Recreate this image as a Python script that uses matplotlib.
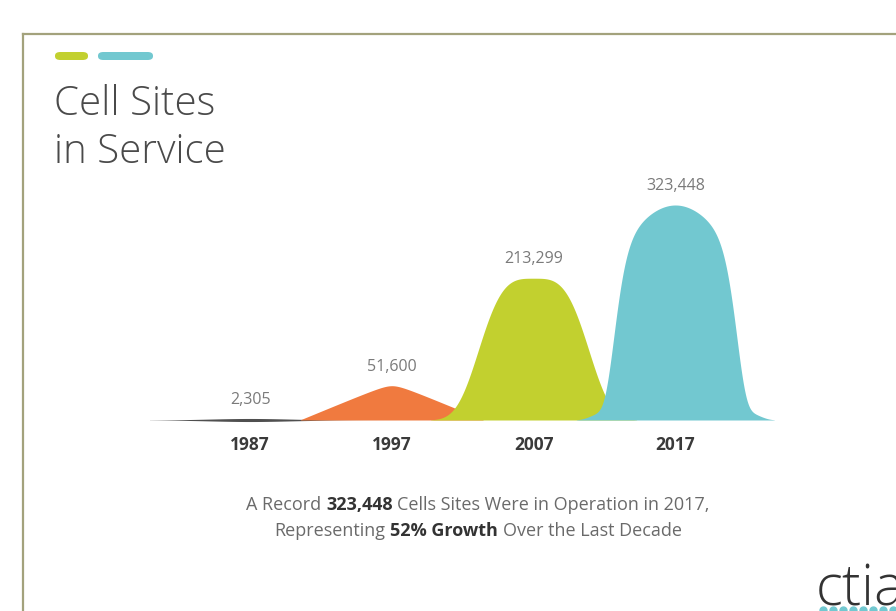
import numpy as np
import matplotlib
matplotlib.use("Agg")
import matplotlib.pyplot as plt
from matplotlib.patches import FancyBboxPatch
from matplotlib.lines import Line2D

# data
years = [1987, 1997, 2007, 2017]
sites = [2305, 51600, 213299, 323448]
labels = ["2,305", "51,600", "213,299", "323,448"]
colors = ["#4f4f4f", "#f07a3f", "#c2d02f", "#72c8d0"]

FONT = "Open Sans"


# shape of each bump, d = distance from the year (in years)
def shape_gray(d):
    return np.exp(-(d / 4.0) ** 2)


def shape_orange(d):
    # tent with a rounded tip
    a, c = 6.53, 0.7
    return np.clip((a - np.sqrt(d ** 2 + c ** 2)) / (a - c), 0, None)


def shape_green(d):
    return np.exp(-(np.abs(d) / 4.3) ** 3.5)


def shape_teal(d):
    # rounded top, steep sides, small flare at the foot
    core = np.exp(-(d / 8.1) ** 2 - (d / 4.5) ** 8)
    foot = np.exp(-(d / 5.9) ** 8)
    return (core + 0.06 * foot) / 1.06


shapes = [shape_gray, shape_orange, shape_green, shape_teal]

fig = plt.figure(figsize=(8.96, 6.11), dpi=100)
fig.patch.set_facecolor("white")
W, H = 896, 611

# frame lines top and left
fig.add_artist(Line2D([23 / W, 1], [1 - 34 / H, 1 - 34 / H], color="#a3a27c", lw=1.6))
fig.add_artist(Line2D([23 / W, 23 / W], [0, 1 - 34 / H], color="#a3a27c", lw=1.6))

# little pills over the title
for x0, x1, c in [(55, 88, "#c2d02f"), (98, 153, "#72c8d0")]:
    fig.add_artist(FancyBboxPatch((x0 / W, 1 - 60 / H), (x1 - x0) / W, 8 / H,
                                  boxstyle="round,pad=0,rounding_size=0.006",
                                  transform=fig.transFigure, fc=c, ec="none"))

fig.text(54 / W, 1 - 115 / H, "Cell Sites", fontsize=29, color="#4a4a4a",
         family=FONT, weight="light", va="baseline")
fig.text(54 / W, 1 - 163 / H, "in Service", fontsize=29, color="#4a4a4a",
         family=FONT, weight="light", va="baseline")

# chart area
ax = fig.add_axes([150 / W, (H - 430) / H, 650 / W, 260 / H])
ax.set_xlim(1979.94, 2025.8)
ax.set_ylim(-15044, 376100)
for s in ax.spines.values():
    s.set_visible(False)
ax.set_yticks([])

x = np.linspace(1979, 2027, 4000)
for i, (yr, v, c, f) in enumerate(zip(years, sites, colors, shapes)):
    y = v * f(x - yr)
    if i > 0:
        y[y < 400] = 0
    if i == 0:
        ax.fill_between(x, -y, y, color=c, lw=0, zorder=i + 1)
    else:
        ax.fill_between(x, 0, y, color=c, lw=0, zorder=i + 1)
    ax.annotate(labels[i], (yr, v), xytext=(0, 13.5), textcoords="offset points",
                ha="center", va="center", fontsize=11.5, color="#7a7a7a", family=FONT)

ax.set_xticks(years)
ax.set_xticklabels([str(y) for y in years], fontsize=12.5, fontweight="bold",
                   color="#3a3a3a", family=FONT)
ax.tick_params(axis="x", length=0, pad=4)

# caption with bold pieces
fig.canvas.draw()
rend = fig.canvas.get_renderer()
CAP = 13


def text_w(s, weight):
    t = fig.text(0, 0, s, fontsize=CAP, family=FONT, weight=weight)
    w = t.get_window_extent(rend).width
    t.remove()
    return w


space = text_w("a b", "normal") - text_w("ab", "normal")


def rich_line(parts, cx, cy):
    ws = [text_w(s, wt) for s, wt in parts]
    total = sum(ws) + space * (len(parts) - 1)
    xp = cx - total / 2
    for (s, wt), w in zip(parts, ws):
        fig.text(xp / W, 1 - cy / H, s, fontsize=CAP, family=FONT, weight=wt,
                 color="#333333" if wt == "bold" else "#6a6a6a", va="center")
        xp += w + space


rich_line([("A Record", "normal"), ("323,448", "bold"),
           ("Cells Sites Were in Operation in 2017,", "normal")], 478, 505)
rich_line([("Representing", "normal"), ("52% Growth", "bold"),
           ("Over the Last Decade", "normal")], 478, 531)

# ctia logo, cut at the edge as in the source image
fig.text(816 / W, 1 - 605 / H, "ctia", fontsize=41, color="#333333",
         family=FONT, weight="light", va="baseline")
for k in range(8):
    fig.add_artist(Line2D([(823 + k * 10) / W], [1 - 610 / H], marker="o", ms=5,
                          color="#72c8d0", lw=0))

fig.savefig("out.png", dpi=100, facecolor="white")
